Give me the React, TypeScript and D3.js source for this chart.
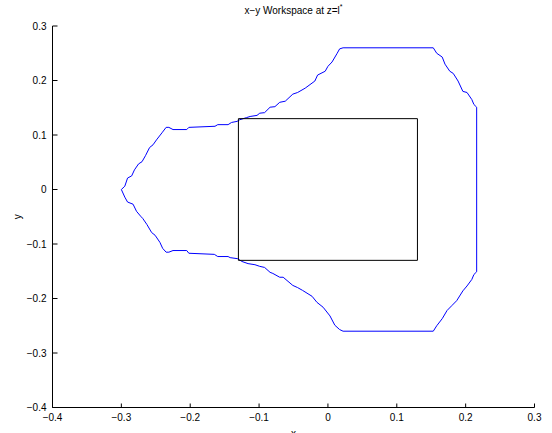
import React from "react";
import * as d3 from "d3";

// Workspace boundary (closed contour), traced counter-clockwise from the left tip
const boundaryX: number[] = [
  -0.300, -0.295, -0.291, -0.285, -0.281, -0.275, -0.270, -0.265, -0.259, -0.254,
  -0.249, -0.241, -0.235, -0.231, -0.225, -0.205, -0.202, -0.164, -0.160, -0.145,
  -0.140, -0.132, -0.128, -0.118, -0.113, -0.103, -0.099, -0.092, -0.084, -0.077,
  -0.070, -0.062, -0.051, -0.044, -0.033, -0.019, -0.015, -0.004, 0.000, 0.006,
  0.013, 0.017, 0.022, 0.153, 0.158, 0.166, 0.170, 0.177, 0.182, 0.189,
  0.196, 0.202, 0.209, 0.212, 0.216,
  0.216, 0.212, 0.209, 0.202, 0.196, 0.187, 0.180, 0.173, 0.166, 0.158,
  0.153, 0.022, 0.017, 0.010, 0.003, -0.007, -0.016, -0.023, -0.037, -0.044,
  -0.051, -0.065, -0.070, -0.080, -0.084, -0.092, -0.099, -0.106, -0.116, -0.125,
  -0.131, -0.142, -0.145, -0.160, -0.165, -0.202, -0.205, -0.225, -0.231, -0.235,
  -0.240, -0.244, -0.251, -0.256, -0.263, -0.269, -0.272, -0.278, -0.283, -0.291,
  -0.295, -0.300,
];
const boundaryY: number[] = [
  0.000, 0.006, 0.021, 0.025, 0.036, 0.047, 0.051, 0.062, 0.077, 0.082,
  0.091, 0.104, 0.114, 0.114, 0.110, 0.110, 0.114, 0.116, 0.119, 0.119,
  0.123, 0.125, 0.128, 0.132, 0.134, 0.136, 0.140, 0.141, 0.151, 0.152,
  0.160, 0.162, 0.175, 0.178, 0.186, 0.199, 0.210, 0.217, 0.226, 0.234,
  0.249, 0.258, 0.260, 0.260, 0.250, 0.243, 0.230, 0.217, 0.213, 0.199,
  0.180, 0.178, 0.165, 0.156, 0.151,
  -0.151, -0.156, -0.165, -0.177, -0.186, -0.204, -0.213, -0.222, -0.237, -0.250,
  -0.260, -0.260, -0.257, -0.249, -0.232, -0.216, -0.207, -0.196, -0.185, -0.180,
  -0.176, -0.161, -0.161, -0.154, -0.152, -0.143, -0.141, -0.138, -0.136, -0.132,
  -0.127, -0.125, -0.123, -0.123, -0.119, -0.117, -0.112, -0.112, -0.115, -0.115,
  -0.108, -0.097, -0.084, -0.079, -0.064, -0.053, -0.049, -0.040, -0.027, -0.023,
  -0.014, 0.000,
];

// Square region inside the workspace: corners at ±0.13
const squareX: number[] = [-0.13, 0.13, 0.13, -0.13, -0.13];
const squareY: number[] = [0.13, 0.13, -0.13, -0.13, 0.13];

const xTicks: number[] = [-0.4, -0.3, -0.2, -0.1, 0, 0.1, 0.2, 0.3];
const yTicks: number[] = [-0.4, -0.3, -0.2, -0.1, 0, 0.1, 0.2, 0.3];

const W = 552;
const H = 433;
const left = 52.5;
const right = 534.5;
const top = 26;
const bottom = 407.5;

export default function App() {
  const x = d3.scaleLinear().domain([-0.4, 0.3]).range([left, right]);
  const y = d3.scaleLinear().domain([-0.4, 0.3]).range([bottom, top]);

  const line = d3
    .line<[number, number]>()
    .x((d) => x(d[0]))
    .y((d) => y(d[1]));

  const boundary: [number, number][] = boundaryX.map((v, i) => [v, boundaryY[i]]);
  const square: [number, number][] = squareX.map((v, i) => [v, squareY[i]]);

  const font = "'Liberation Sans', Arial, Helvetica, sans-serif";
  const fmt = (v: number) => (v === 0 ? "0" : d3.format(".1f")(v).replace("-", "\u2212"));

  return (
    <svg
      width={W}
      height={H}
      style={{ position: "absolute", left: 0, top: 0, background: "#fff" }}
      fontFamily={font}
    >
      <rect width={W} height={H} fill="#fff" />
      {/* curves */}
      <path d={line(boundary) ?? ""} fill="none" stroke="#0000ff" strokeWidth={1} />
      <path d={line(square) ?? ""} fill="none" stroke="#000" strokeWidth={1} />

      {/* axes */}
      <line x1={left} x2={right} y1={bottom} y2={bottom} stroke="#000" />
      <line x1={left} x2={left} y1={top} y2={bottom} stroke="#000" />

      {xTicks.map((t) => (
        <g key={`x${t}`}>
          <line x1={x(t)} x2={x(t)} y1={bottom} y2={bottom - 4} stroke="#000" />
          <text x={x(t)} y={bottom + 13} fontSize={10} textAnchor="middle" fill="#000">
            {fmt(t)}
          </text>
        </g>
      ))}
      {yTicks.map((t) => (
        <g key={`y${t}`}>
          <line x1={left} x2={left + 5} y1={y(t)} y2={y(t)} stroke="#000" />
          <text x={left - 6} y={y(t) + 3.5} fontSize={10} textAnchor="end" fill="#000">
            {fmt(t)}
          </text>
        </g>
      ))}

      {/* labels */}
      <text x={(left + right) / 2} y={14} fontSize={10} textAnchor="middle" fill="#000">
        x{"\u2212"}y Workspace at z=l
        <tspan fontSize={7} dy={-5}>*</tspan>
      </text>
      <text x={(left + right) / 2} y={437} fontSize={10} textAnchor="middle" fill="#000">
        x
      </text>
      <text
        transform={`translate(21, ${(top + bottom) / 2}) rotate(-90)`}
        fontSize={10}
        textAnchor="middle"
        fill="#000"
      >
        y
      </text>
    </svg>
  );
}
